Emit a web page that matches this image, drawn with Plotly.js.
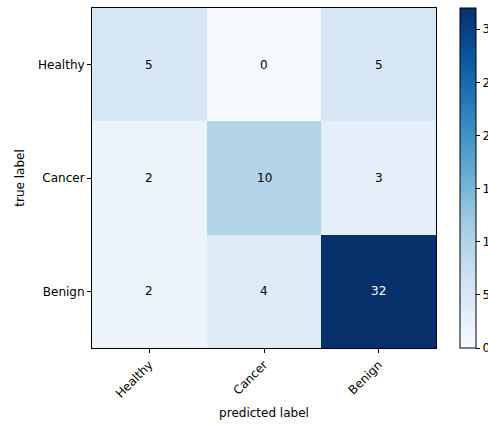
<!DOCTYPE html>
<html><head><meta charset="utf-8">
<script src="https://cdn.plot.ly/plotly-3.0.1.min.js"></script>
<style>body{margin:0;padding:0;background:#fff}#chart{width:488px;height:424px}</style>
</head><body><div id="chart"></div>
<script>
const predictedLabels = ["Healthy", "Cancer", "Benign"];
const trueLabels = ["Healthy", "Cancer", "Benign"];
const counts = [
  [5, 0, 5],
  [2, 10, 3],
  [2, 4, 32]
];
const colorbarTicks = [0, 5, 10, 15, 20, 25, 30];

const blues = [
  [0.0, '#f7fbff'], [0.125, '#deebf7'], [0.25, '#c6dbef'], [0.375, '#9ecae1'],
  [0.5, '#6baed6'], [0.625, '#4292c6'], [0.75, '#2171b5'], [0.875, '#08519c'], [1.0, '#08306b']
];
let zmax = 0;
counts.forEach(r => r.forEach(v => { if (v > zmax) zmax = v; }));
const thresh = zmax / 2;

const annotations = [];
counts.forEach((row, i) => row.forEach((v, j) => {
  annotations.push({x: predictedLabels[j], y: trueLabels[i], text: String(v), showarrow: false,
    font: {color: v > thresh ? 'white' : 'black', size: 12, family: 'DejaVu Sans'}});
}));

const trace = {
  type: 'heatmap', z: counts, x: predictedLabels, y: trueLabels,
  colorscale: blues, zmin: 0, zmax: zmax, xgap: 0, ygap: 0,
  hoverinfo: 'none',
  colorbar: {x: 1.07, xanchor: 'left', xpad: 0, ypad: 0, y: 0.5, yanchor: 'middle', len: 1, lenmode: 'fraction',
    thickness: 16, thicknessmode: 'pixels', outlinewidth: 1, outlinecolor: '#000',
    tickvals: colorbarTicks, ticks: 'outside', ticklen: 4, tickcolor: '#000',
    tickfont: {family: 'DejaVu Sans', size: 12, color: '#000'}}
};

const layout = {
  width: 488, height: 424,
  margin: {l: 92, r: 52, t: 8, b: 76, autoexpand: false},
  paper_bgcolor: '#fff', plot_bgcolor: '#fff',
  font: {family: 'DejaVu Sans', size: 12, color: '#000'},
  xaxis: {type: 'category', tickangle: -45, ticks: 'outside', ticklen: 4, tickcolor: '#000', automargin: false,
    showline: true, mirror: true, linecolor: '#000', linewidth: 1, showgrid: false, zeroline: false,
    title: {text: 'predicted label', font: {size: 12}, standoff: 8}, fixedrange: true},
  yaxis: {type: 'category', autorange: 'reversed', ticks: 'outside', ticklen: 4, tickcolor: '#000', automargin: false,
    showline: true, mirror: true, linecolor: '#000', linewidth: 1, showgrid: false, zeroline: false,
    title: {text: 'true label', font: {size: 12}, standoff: 10}, fixedrange: true},
  annotations: annotations
};

Plotly.newPlot('chart', [trace], layout, {displayModeBar: false, staticPlot: true});
</script></body></html>
